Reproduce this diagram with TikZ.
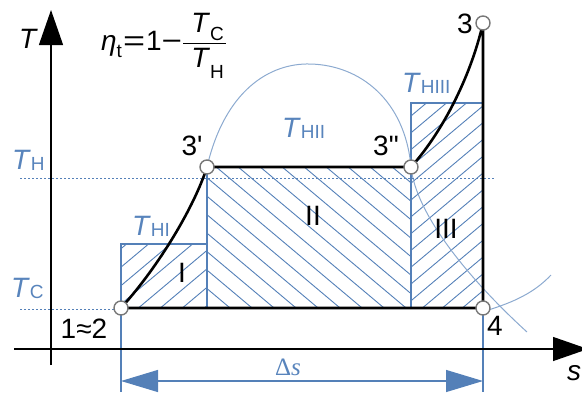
\documentclass[tikz,border=0pt]{standalone}
\usepackage{fontspec}
\usepackage{amsmath}
\usepackage{graphicx}
\setmainfont{Liberation Sans}
\newfontfamily\seriff{Liberation Serif}
\usetikzlibrary{arrows.meta}
\definecolor{bl}{RGB}{84,128,184}
\definecolor{bltext}{RGB}{88,132,188}
\definecolor{domec}{RGB}{140,170,208}
\definecolor{ptgray}{RGB}{120,120,120}
\tikzset{
  hatch/.style={bl, line width=0.9pt},
  rectedge/.style={bl, line width=1.2pt},
  proc/.style={black, line width=2.6pt, line join=round},
  axisline/.style={black, line width=1.3pt, -{Triangle[length=35pt,width=24pt]}},
  dimline/.style={bl, line width=1.2pt, {Triangle[length=37pt,width=22pt]}-{Triangle[length=37pt,width=22pt]}},
  dotline/.style={bl, line width=0.8pt, dash pattern=on 2pt off 2pt},
  statept/.style={circle, draw=ptgray, fill=white, line width=1.4pt, minimum size=14pt, inner sep=0pt},
  lbl/.style={inner sep=0pt, font=\fontsize{28}{30}\selectfont},
  bluelbl/.style={lbl, text=bltext},
}
\newcommand{\Tsub}[1]{\textit{T}\raisebox{-1.5pt}{\fontsize{19}{19}\selectfont #1}}
\newcommand{\Tlow}[2]{\textit{T}\raisebox{-#2}{\fontsize{19}{19}\selectfont #1}}
\begin{document}
\begin{tikzpicture}[x=1pt,y=-1pt]
\useasboundingbox (0,0) rectangle (582,392);
% state points
\coordinate (p1) at (121,308);
\coordinate (p3a) at (207,167);
\coordinate (p3b) at (411,167);
\coordinate (p3) at (483,23);
\coordinate (p4) at (483,308);
% hatching
\begin{scope}
  \clip (121,244) rectangle (207,308);
  \foreach \x in {-150,-128,...,230} \draw[hatch] (\x,310) -- ++(250,-210);
\end{scope}
\begin{scope}
  \clip (207,167) rectangle (411,308);
  \foreach \x in {20,42,...,430} \draw[hatch] (\x,150) -- ++(250,210);
\end{scope}
\begin{scope}
  \clip (411,103) rectangle (483,308);
  \foreach \x in {140,160,...,500} \draw[hatch] (\x,310) -- ++(250,-210);
\end{scope}
% rectangle edges
\draw[rectedge] (121,308) -- (121,244) -- (207,244);
\draw[rectedge] (207,167) -- (207,308);
\draw[bl, line width=2.6pt] (411,167) -- (411,308);
\draw[rectedge] (411,167) -- (411,103) -- (483,103) -- (483,308);
% extension lines
\coordinate (e1) at (121,392);
\coordinate (e2) at (483,392);
\draw[rectedge] (p1) -- (e1);
\draw[rectedge] (p4) -- (e2);
% dome
\draw[domec, line width=1pt] (p3a) .. controls (225,90) and (270,63) .. (310,64)
  .. controls (360,65) and (405,100) .. (p3b)
  .. controls (416,215) and (470,280) .. (527,332);
\draw[domec, line width=1pt] (485,311) .. controls (515,302) and (535,292) .. (551,275);
% dotted temperature lines
\coordinate (th1) at (20,178); \coordinate (th2) at (494,178);
\coordinate (tc1) at (20,309); \coordinate (tc2) at (114,309);
\draw[dotline] (th1) -- (th2);
\draw[dotline] (tc1) -- (tc2);
% axes
\coordinate (Tb) at (51,365); \coordinate (Tt) at (51,10);
\coordinate (sl) at (14,349); \coordinate (sr) at (588,349);
\draw[axisline] (Tb) -- (Tt);
\draw[axisline] (sl) -- (sr);
% dimension
\coordinate (d1) at (121,381); \coordinate (d2) at (483,381);
\draw[dimline] (d1) -- (d2);
% process
\draw[proc] (p1) .. controls (160,265) and (195,205) .. (p3a) -- (p3b)
  .. controls (440,135) and (470,80) .. (p3) -- (p4) -- (p1);
% points
\node[statept] (n1) at (p1) {};
\node[statept] (n3a) at (p3a) {};
\node[statept] (n3b) at (p3b) {};
\node[statept] (n3) at (p3) {};
\node[statept] (n4) at (p4) {};
% labels
\node[lbl, anchor=base west] (Tlab) at (19,48) {\textit{T}};
\node[lbl, anchor=base west] (slab) at (567,380) {\textit{s}};
\node[lbl, anchor=base west] (eta) at (101,50)
  {$\text{\itshape η\upshape\raisebox{-7pt}{\fontsize{19}{19}\selectfont t}\hspace{1pt}\scalebox{1.35}[1]{=}\hspace{1pt}1\scalebox{1.25}[1]{−}}\dfrac{\text{\hspace{8pt}\Tlow{C}{8pt}\hspace{2pt}}}{\text{\hspace{8pt}\Tlow{H}{11pt}\hspace{2pt}}}$};
\node[bluelbl, anchor=base west] (lTH) at (12,169) {\Tsub{H}};
\node[bluelbl, anchor=base west] (lTC) at (11,297) {\Tsub{C}};
\node[bluelbl, anchor=base west] (lTHI) at (132,235) {\Tsub{HI}};
\node[bluelbl, anchor=base west] (lTHII) at (282,137) {\Tsub{HII}};
\node[bluelbl, anchor=base west] (lTHIII) at (402,92) {\Tsub{HIII}};
\node[lbl, anchor=base] (l3a) at (192,155) {3\textquotesingle};
\node[lbl, anchor=base] (l3b) at (386,155) {3\textquotedbl};
\node[lbl, anchor=base] (l3) at (465,33) {3};
\node[lbl, anchor=base] (l12) at (84,338) {1≈2};
\node[lbl, anchor=base] (l4) at (495,335) {4};
\node[lbl, anchor=base] (lI) at (182,282) {I};
\node[lbl, anchor=base] (lII) at (313,225) {II};
\node[lbl, anchor=base] (lIII) at (446,238) {III};
\node[inner sep=0pt, anchor=base, text=bltext, font=\seriff\fontsize{25}{27}\selectfont] (lds) at (288,375) {Δ\textit{s}};
\end{tikzpicture}
\end{document}
